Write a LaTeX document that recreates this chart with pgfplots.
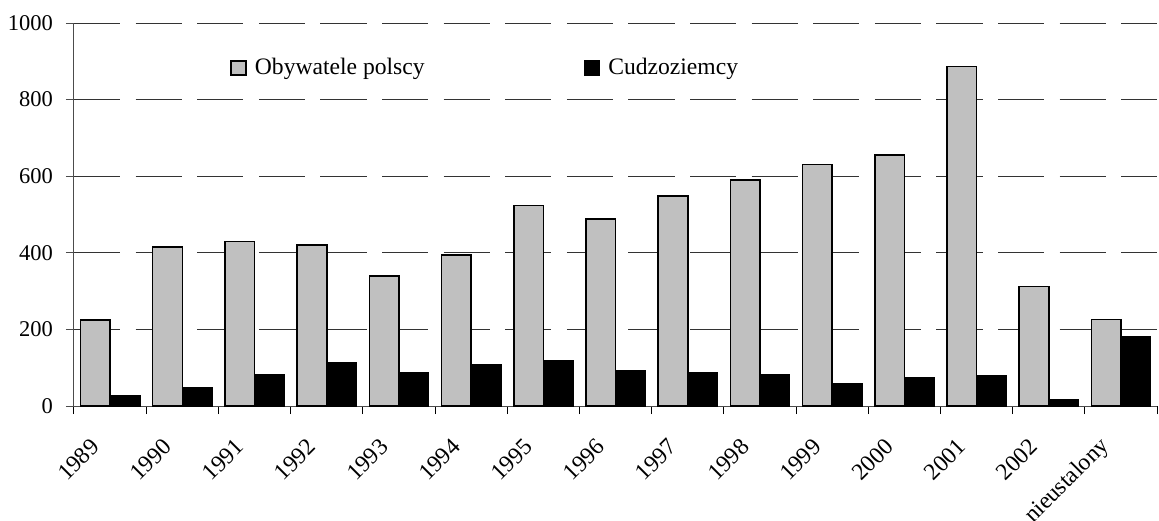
\documentclass[border=0pt]{standalone}
\usepackage{fontspec}
\setmainfont{Liberation Serif}
\usepackage{pgfplots}
\pgfplotsset{compat=1.18}
\definecolor{barGray}{HTML}{C0C0C0}

\begin{document}
\begin{tikzpicture}
\begin{axis}[
  scale only axis,
  width=541.5pt, height=191.5pt,
  ybar=0pt, bar width=0.41,
  xmin=-0.5, xmax=14.5, ymin=0, ymax=1000,
  axis x line*=bottom, axis y line*=left,
  axis line style={black!70, line width=0.5pt},
  tick align=outside,
  xtick={0,...,14},
  xticklabels={1989,1990,1991,1992,1993,1994,1995,1996,1997,1998,1999,2000,2001,2002,nieustalony},
  major x tick style={draw=none},
  minor xtick={-0.5,0.5,...,14.5},
  minor x tick style={black, line width=0.5pt},
  minor tick length=4pt, major tick length=4pt,
  ytick={0,200,...,1000},
  ytick style={black!70, line width=0.5pt},
  ymajorgrids,
  grid style={black!80, line width=0.5pt, dash pattern=on 23.1pt off 7.7pt},
  tick label style={font=\fontsize{11.25}{13}\selectfont},
  xticklabel style={rotate=45, anchor=east, xshift=-12pt, yshift=-5pt,
    font=\fontsize{11.8}{13}\selectfont},
  yticklabel style={xshift=-3pt},
  /pgf/number format/assume math mode=true,
  /pgf/number format/1000 sep={},
  legend columns=2,
  legend style={draw=none, fill=none, at={(0.144,0.8825)}, anchor=west,
    inner sep=0pt, font=\fontsize{11.8}{13}\selectfont,
    nodes={inner sep=0pt},
    /tikz/every odd column/.append style={column sep=4pt},
    /tikz/every even column/.append style={column sep=79.5pt}},
]
\addplot[fill=barGray, draw=black, line width=0.8pt,
  legend image code/.code={\draw[fill=barGray, draw=black, line width=0.8pt] (0pt,-3.5pt) rectangle (7.5pt,3.5pt);}]
  coordinates {(0,225) (1,415) (2,430) (3,420) (4,339) (5,395) (6,524) (7,489)
               (8,549) (9,590) (10,631) (11,656) (12,886) (13,312) (14,226)};
\addplot[fill=black, draw=black, line width=0.8pt,
  legend image code/.code={\draw[fill=black, draw=black, line width=0.8pt] (0pt,-3.5pt) rectangle (7.5pt,3.5pt);}]
  coordinates {(0,26) (1,47) (2,82) (3,113) (4,88) (5,108) (6,118) (7,93)
               (8,88) (9,82) (10,57) (11,73) (12,78) (13,16) (14,181)};
\legend{Obywatele polscy, Cudzoziemcy}
\end{axis}
\pgfresetboundingbox
\path[use as bounding box] ([shift={(-37pt,-57pt)}]current axis.south west)
  rectangle ([shift={(1pt,11.5pt)}]current axis.north east);
\end{tikzpicture}
\end{document}
